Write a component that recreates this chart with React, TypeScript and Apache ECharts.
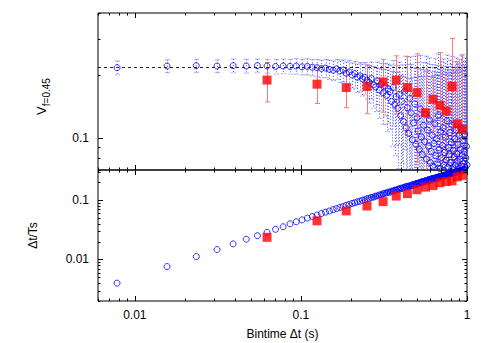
import React, { useEffect, useRef } from 'react';
import * as echarts from 'echarts';

// ---- data ----
const BASE_BIN = 0.0078125; // s, smallest bin time
const binCounts = [
  1, 2, 3, 4, 5, 6, 7, 8, 9, 10, 11, 12, 13, 14, 15, 16, 17, 18, 19, 20,
  21, 22, 23, 24, 25, 26, 27, 28, 29, 30, 31, 32, 33, 34, 35, 36, 37, 38, 39, 40,
  41, 42, 43, 44, 45, 46, 47, 48, 49, 50, 51, 52, 53, 54, 55, 56, 57, 58, 59, 60,
  61, 62, 63, 64, 65, 66, 67, 68, 69, 70, 71, 72, 73, 74, 75, 76, 77, 78, 79, 80,
  81, 82, 83, 84, 85, 86, 87, 88, 89, 90, 91, 92, 93, 94, 95, 96, 97, 98, 99, 100,
  101, 102, 103, 104, 105, 106, 107, 108, 109, 110, 111, 112, 113, 114, 115, 116, 117, 118, 119, 120,
  121, 122, 123, 124, 125, 126, 127, 128,
];

const vfBlue = [
  0.218, 0.222, 0.223, 0.222, 0.223, 0.222, 0.223, 0.222, 0.221, 0.222,
  0.221, 0.222, 0.220, 0.221, 0.219, 0.218, 0.216, 0.217, 0.214, 0.212,
  0.215, 0.210, 0.212, 0.205, 0.208, 0.201, 0.204, 0.196, 0.199, 0.193,
  0.196, 0.190, 0.185, 0.193, 0.180, 0.176, 0.188, 0.170, 0.182, 0.165,
  0.178, 0.160, 0.172, 0.167, 0.150, 0.175, 0.145, 0.158, 0.139, 0.162,
  0.128, 0.150, 0.120, 0.168, 0.112, 0.140, 0.105, 0.155, 0.132, 0.098,
  0.118, 0.146, 0.093, 0.125, 0.108, 0.088, 0.138, 0.101, 0.083, 0.115,
  0.096, 0.130, 0.079, 0.109, 0.091, 0.122, 0.076, 0.086, 0.103, 0.073,
  0.094, 0.117, 0.082, 0.099, 0.075, 0.128, 0.088, 0.071, 0.107, 0.080,
  0.092, 0.112, 0.074, 0.085, 0.101, 0.078, 0.121, 0.072, 0.090, 0.083,
  0.106, 0.076, 0.095, 0.115, 0.072, 0.087, 0.081, 0.099, 0.074, 0.109,
  0.084, 0.077, 0.093, 0.071, 0.103, 0.079, 0.088, 0.112, 0.073, 0.082,
  0.097, 0.075, 0.086, 0.104, 0.072, 0.080, 0.091, 0.074,
];

const vfBlueErr = [
  0.017, 0.016, 0.016, 0.016, 0.017, 0.017, 0.017, 0.017, 0.018, 0.018,
  0.018, 0.019, 0.019, 0.020, 0.020, 0.021, 0.021, 0.022, 0.023, 0.023,
  0.024, 0.025, 0.026, 0.027, 0.028, 0.029, 0.030, 0.031, 0.032, 0.034,
  0.035, 0.036, 0.038, 0.039, 0.041, 0.042, 0.044, 0.046, 0.047, 0.049,
  0.051, 0.053, 0.055, 0.057, 0.059, 0.061, 0.063, 0.066, 0.068, 0.070,
  0.073, 0.075, 0.078, 0.080, 0.083, 0.086, 0.088, 0.091, 0.094, 0.097,
  0.100, 0.102, 0.104, 0.106, 0.108, 0.110, 0.112, 0.113, 0.115, 0.116,
  0.117, 0.118, 0.119, 0.120, 0.121, 0.121, 0.122, 0.122, 0.123, 0.123,
  0.124, 0.124, 0.125, 0.125, 0.126, 0.126, 0.127, 0.127, 0.127, 0.128,
  0.128, 0.128, 0.129, 0.129, 0.129, 0.130, 0.130, 0.130, 0.131, 0.131,
  0.131, 0.132, 0.132, 0.132, 0.133, 0.133, 0.133, 0.134, 0.134, 0.134,
  0.135, 0.135, 0.135, 0.136, 0.136, 0.136, 0.137, 0.137, 0.137, 0.138,
  0.138, 0.138, 0.139, 0.139, 0.139, 0.140, 0.140, 0.140,
];

const dtTsBlue = [
  0.0040, 0.0076, 0.0112, 0.0147, 0.0183, 0.0219, 0.0251, 0.0286, 0.0321, 0.0355,
  0.0398, 0.0430, 0.0463, 0.0497, 0.0528, 0.0560, 0.0592, 0.0625, 0.0655, 0.0690,
  0.0718, 0.0752, 0.0780, 0.0815, 0.0840, 0.0876, 0.0898, 0.0935, 0.0955, 0.0992,
  0.1010, 0.1050, 0.1068, 0.1105, 0.1120, 0.1162, 0.1175, 0.1218, 0.1230, 0.1275,
  0.1300, 0.1320, 0.1360, 0.1350, 0.1420, 0.1410, 0.1470, 0.1460, 0.1520, 0.1530,
  0.1580, 0.1560, 0.1630, 0.1610, 0.1680, 0.1700, 0.1660, 0.1750, 0.1730, 0.1800,
  0.1770, 0.1860, 0.1830, 0.1900, 0.1920, 0.1880, 0.1970, 0.2010, 0.1960, 0.2060,
  0.2040, 0.2100, 0.2080, 0.2150, 0.2190, 0.2130, 0.2230, 0.2200, 0.2280, 0.2310,
  0.2260, 0.2350, 0.2330, 0.2400, 0.2380, 0.2450, 0.2420, 0.2500, 0.2470, 0.2540,
  0.2520, 0.2590, 0.2560, 0.2630, 0.2610, 0.2680, 0.2650, 0.2720, 0.2700, 0.2760,
  0.2740, 0.2800, 0.2790, 0.2850, 0.2830, 0.2890, 0.2870, 0.2930, 0.2920, 0.2970,
  0.2960, 0.3010, 0.3000, 0.3050, 0.3040, 0.3090, 0.3080, 0.3130, 0.3120, 0.3170,
  0.3160, 0.3200, 0.3190, 0.3240, 0.3230, 0.3280, 0.3270, 0.3310,
];

const dtBlueXErr = [
  0, 0, 0, 0, 0, 0, 0, 0, 0, 0,
  0, 0, 0, 0, 0, 0, 0, 0, 0, 0,
  0, 0, 0, 0, 0.006, 0.007, 0.008, 0.009, 0.010, 0.011,
  0.012, 0.014, 0.015, 0.017, 0.018, 0.020, 0.021, 0.023, 0.024, 0.026,
  0.028, 0.030, 0.032, 0.034, 0.036, 0.038, 0.040, 0.042, 0.044, 0.046,
  0.048, 0.050, 0.052, 0.054, 0.056, 0.058, 0.060, 0.062, 0.064, 0.066,
  0.068, 0.070, 0.072, 0.073, 0.075, 0.077, 0.078, 0.080, 0.082, 0.083,
  0.085, 0.086, 0.088, 0.089, 0.091, 0.092, 0.094, 0.095, 0.097, 0.098,
  0.100, 0.101, 0.102, 0.104, 0.105, 0.106, 0.108, 0.109, 0.110, 0.112,
  0.113, 0.114, 0.115, 0.117, 0.118, 0.119, 0.120, 0.121, 0.123, 0.124,
  0.125, 0.126, 0.127, 0.128, 0.130, 0.131, 0.132, 0.133, 0.134, 0.135,
  0.136, 0.137, 0.138, 0.139, 0.140, 0.141, 0.142, 0.143, 0.144, 0.145,
  0.146, 0.147, 0.148, 0.149, 0.150, 0.151, 0.152, 0.153,
];

const redBinTimes = [
  0.0625, 0.125, 0.1875, 0.25, 0.3125, 0.375, 0.4375, 0.5,
  0.5625, 0.625, 0.6875, 0.75, 0.8125, 0.875, 0.9375,
];
const vfRed = [
  0.190, 0.1815, 0.1748, 0.1768, 0.186, 0.1897, 0.1748, 0.1653,
  0.1323, 0.1535, 0.1436, 0.1346, 0.1768, 0.1169, 0.1097,
];
const vfRedErr = [
  0.041, 0.035, 0.035, 0.046, 0.053, 0.059, 0.072, 0.089,
  0.077, 0.046, 0.114, 0.058, 0.125, 0.116, 0.142,
];
const dtTsRed = [
  0.0236, 0.0447, 0.0656, 0.0794, 0.094, 0.1166, 0.128, 0.149,
  0.165, 0.175, 0.195, 0.205, 0.210, 0.245, 0.260,
];
const vfReference = 0.222;

const xMajorTicks = [0.01, 0.1, 1];
const xMinorTicks = [
  0.006, 0.007, 0.008, 0.009,
  0.02, 0.03, 0.04, 0.05, 0.06, 0.07, 0.08, 0.09,
  0.2, 0.3, 0.4, 0.5, 0.6, 0.7, 0.8, 0.9,
];
const vfMajorTicks = [0.1];
const vfMinorTicks = [0.07, 0.08, 0.09, 0.2, 0.3, 0.4];
const dtMajorTicks = [0.01, 0.1];
const dtMinorTicks = [
  0.002, 0.003, 0.004, 0.005, 0.006, 0.007, 0.008, 0.009,
  0.02, 0.03, 0.04, 0.05, 0.06, 0.07, 0.08, 0.09,
  0.2, 0.3,
];

const X_MIN = 0.006;
const X_MAX = 1;
const VF_MIN = 0.07;
const VF_MAX = 0.4;
const DT_MIN = 0.002;
const DT_MAX = 0.32;

const FONT = '"Liberation Sans", Arial, Helvetica, sans-serif';
const BLUE = '#0000ff';
const BLUE_BAR = '#5050ff';
const RED = '#ff0000';
const RED_BAR = '#ff7878';

const powLabel = (v: number) => {
  const l = Math.log10(v);
  const k = Math.round(l);
  if (Math.abs(l - k) > 1e-6) return '';
  return String(Number(Math.pow(10, k).toFixed(Math.max(0, -k))));
};

const snap = (v: number) => Math.round(v) + 0.5;

function xTickSeries(idx: number, values: number[], len: number, yRef: number) {
  return {
    type: 'custom',
    xAxisIndex: idx,
    yAxisIndex: idx,
    silent: true,
    z: 10,
    data: values.map((v) => [v, yRef]),
    renderItem: (params: any, api: any) => {
      const cs = params.coordSys;
      const px = snap(api.coord([api.value(0), yRef])[0]);
      const style = { stroke: '#000', lineWidth: 1 };
      return {
        type: 'group',
        children: [
          { type: 'line', shape: { x1: px, y1: cs.y, x2: px, y2: cs.y + len }, style },
          { type: 'line', shape: { x1: px, y1: cs.y + cs.height, x2: px, y2: cs.y + cs.height - len }, style },
        ],
      };
    },
  };
}

function yTickSeries(idx: number, values: number[], len: number, xRef: number) {
  return {
    type: 'custom',
    xAxisIndex: idx,
    yAxisIndex: idx,
    silent: true,
    z: 10,
    data: values.map((v) => [xRef, v]),
    renderItem: (params: any, api: any) => {
      const cs = params.coordSys;
      const py = snap(api.coord([xRef, api.value(1)])[1]);
      const style = { stroke: '#000', lineWidth: 1 };
      return {
        type: 'group',
        children: [
          { type: 'line', shape: { x1: cs.x, y1: py, x2: cs.x + len, y2: py }, style },
          { type: 'line', shape: { x1: cs.x + cs.width, y1: py, x2: cs.x + cs.width - len, y2: py }, style },
        ],
      };
    },
  };
}

function vErrSeries(idx: number, xs: number[], ys: number[], errs: number[], color: string, dash: number[] | null, cap: number, floor: number) {
  return {
    type: 'custom',
    xAxisIndex: idx,
    yAxisIndex: idx,
    silent: true,
    clip: true,
    z: 3,
    encode: { x: 0, y: [1, 2] },
    data: xs.map((x, i) => [x, Math.max(ys[i] - errs[i], floor), ys[i] + errs[i]]),
    renderItem: (params: any, api: any) => {
      const x = api.value(0);
      const top = api.coord([x, api.value(2)]);
      const bot = api.coord([x, api.value(1)]);
      const px = snap(top[0]);
      const style: any = { stroke: color, lineWidth: 1 };
      if (dash) style.lineDash = dash;
      return {
        type: 'group',
        children: [
          { type: 'line', shape: { x1: px, y1: top[1], x2: px, y2: bot[1] }, style },
          { type: 'line', shape: { x1: px - cap, y1: top[1], x2: px + cap, y2: top[1] }, style },
          { type: 'line', shape: { x1: px - cap, y1: bot[1], x2: px + cap, y2: bot[1] }, style },
        ],
      };
    },
  };
}

function hErrSeries(idx: number, xs: number[], ys: number[], errs: number[], color: string, dash: number[]) {
  return {
    type: 'custom',
    xAxisIndex: idx,
    yAxisIndex: idx,
    silent: true,
    clip: true,
    z: 3,
    encode: { x: [0, 1], y: 2 },
    data: xs.map((x, i) => [Math.max(x - errs[i], X_MIN * 0.5), x + errs[i], ys[i]]),
    renderItem: (params: any, api: any) => {
      const a = api.coord([api.value(0), api.value(2)]);
      const b = api.coord([api.value(1), api.value(2)]);
      if (Math.abs(b[0] - a[0]) < 0.5) return { type: 'group', children: [] };
      const py = snap(a[1]);
      return {
        type: 'line',
        shape: { x1: a[0], y1: py, x2: b[0], y2: py },
        style: { stroke: color, lineWidth: 1, lineDash: dash },
      };
    },
  };
}

export default function App() {
  const ref = useRef<HTMLDivElement>(null);

  useEffect(() => {
    document.body.style.margin = '0';
    if (!ref.current) return;
    const chart = echarts.init(ref.current, undefined, { renderer: 'svg' });

    const binTimes = binCounts.map((c) => c * BASE_BIN);

    const axisCommon = {
      type: 'log',
      logBase: 10,
      axisLine: { show: false },
      axisTick: { show: false },
      splitLine: { show: false },
      minorTick: { show: false },
    };
    const labelStyle = { color: '#000', fontSize: 12, fontFamily: FONT };

    const option: any = {
      animation: false,
      backgroundColor: '#fff',
      textStyle: { fontFamily: FONT },
      grid: [
        { left: 98, top: 13, width: 369, height: 157, show: true, borderColor: '#000', borderWidth: 1, backgroundColor: 'transparent' },
        { left: 98, top: 170, width: 369, height: 131, show: true, borderColor: '#000', borderWidth: 1, backgroundColor: 'transparent' },
      ],
      xAxis: [
        { ...axisCommon, gridIndex: 0, min: X_MIN, max: X_MAX, axisLabel: { show: false } },
        {
          ...axisCommon, gridIndex: 1, min: X_MIN, max: X_MAX,
          axisLabel: { ...labelStyle, margin: 8, formatter: powLabel },
          name: 'Bintime Δt (s)', nameLocation: 'middle', nameGap: 27,
          nameTextStyle: { ...labelStyle },
        },
      ],
      yAxis: [
        {
          ...axisCommon, gridIndex: 0, min: VF_MIN, max: VF_MAX,
          axisLabel: { ...labelStyle, margin: 9, formatter: powLabel },
          name: '{v|V}{s|f=0.45}', nameLocation: 'middle', nameGap: 47, nameRotate: 90,
          nameTextStyle: {
            ...labelStyle,
            padding: [0, 10, 0, 0],
            rich: {
              v: { fontSize: 13, fontFamily: FONT, color: '#000', lineHeight: 20, verticalAlign: 'middle' },
              s: { fontSize: 10, fontFamily: FONT, color: '#000', lineHeight: 13, verticalAlign: 'bottom' },
            },
          },
        },
        {
          ...axisCommon, gridIndex: 1, min: DT_MIN, max: DT_MAX,
          axisLabel: { ...labelStyle, margin: 9, formatter: powLabel },
          name: 'Δt/Ts', nameLocation: 'middle', nameGap: 59, nameRotate: 90,
          nameTextStyle: { ...labelStyle },
        },
      ],
      series: [
        // upper panel: blue error bars + circles
        vErrSeries(0, binTimes, vfBlue, vfBlueErr, BLUE_BAR, [1, 2], 2, 0.001),
        {
          type: 'scatter', xAxisIndex: 0, yAxisIndex: 0, z: 4, silent: true,
          symbol: 'circle', symbolSize: 6,
          itemStyle: { color: 'rgba(0,0,0,0)', borderColor: BLUE, borderWidth: 1 },
          data: binTimes.map((x, i) => [x, vfBlue[i]]),
          markLine: {
            silent: true, symbol: ['none', 'none'], label: { show: false },
            lineStyle: { color: '#222', width: 1, type: [3, 3] },
            data: [{ yAxis: vfReference }],
          },
        },
        // upper panel: red error bars + squares
        vErrSeries(0, redBinTimes, vfRed, vfRedErr, RED_BAR, null, 2.5, 0.001),
        {
          type: 'scatter', xAxisIndex: 0, yAxisIndex: 0, z: 6, silent: true,
          symbol: 'rect', symbolSize: 9,
          itemStyle: { color: RED },
          data: redBinTimes.map((x, i) => [x, vfRed[i]]),
        },
        // lower panel
        hErrSeries(1, binTimes, dtTsBlue, dtBlueXErr, BLUE_BAR, [1, 2]),
        {
          type: 'scatter', xAxisIndex: 1, yAxisIndex: 1, z: 4, silent: true,
          symbol: 'circle', symbolSize: 6,
          itemStyle: { color: 'rgba(0,0,0,0)', borderColor: BLUE, borderWidth: 1 },
          data: binTimes.map((x, i) => [x, dtTsBlue[i]]),
        },
        {
          type: 'scatter', xAxisIndex: 1, yAxisIndex: 1, z: 6, silent: true,
          symbol: 'rect', symbolSize: 9,
          itemStyle: { color: RED },
          data: redBinTimes.map((x, i) => [x, dtTsRed[i]]),
        },
        // ticks (mirrored, inward)
        xTickSeries(0, xMajorTicks, 5, 0.1),
        xTickSeries(0, xMinorTicks, 2.5, 0.1),
        xTickSeries(1, xMajorTicks, 5, 0.01),
        xTickSeries(1, xMinorTicks, 2.5, 0.01),
        yTickSeries(0, vfMajorTicks, 5, 0.1),
        yTickSeries(0, vfMinorTicks, 2.5, 0.1),
        yTickSeries(1, dtMajorTicks, 5, 0.1),
        yTickSeries(1, dtMinorTicks, 2.5, 0.1),
      ],
    };

    chart.setOption(option);
    return () => chart.dispose();
  }, []);

  return <div ref={ref} style={{ width: 491, height: 343 }} />;
}
